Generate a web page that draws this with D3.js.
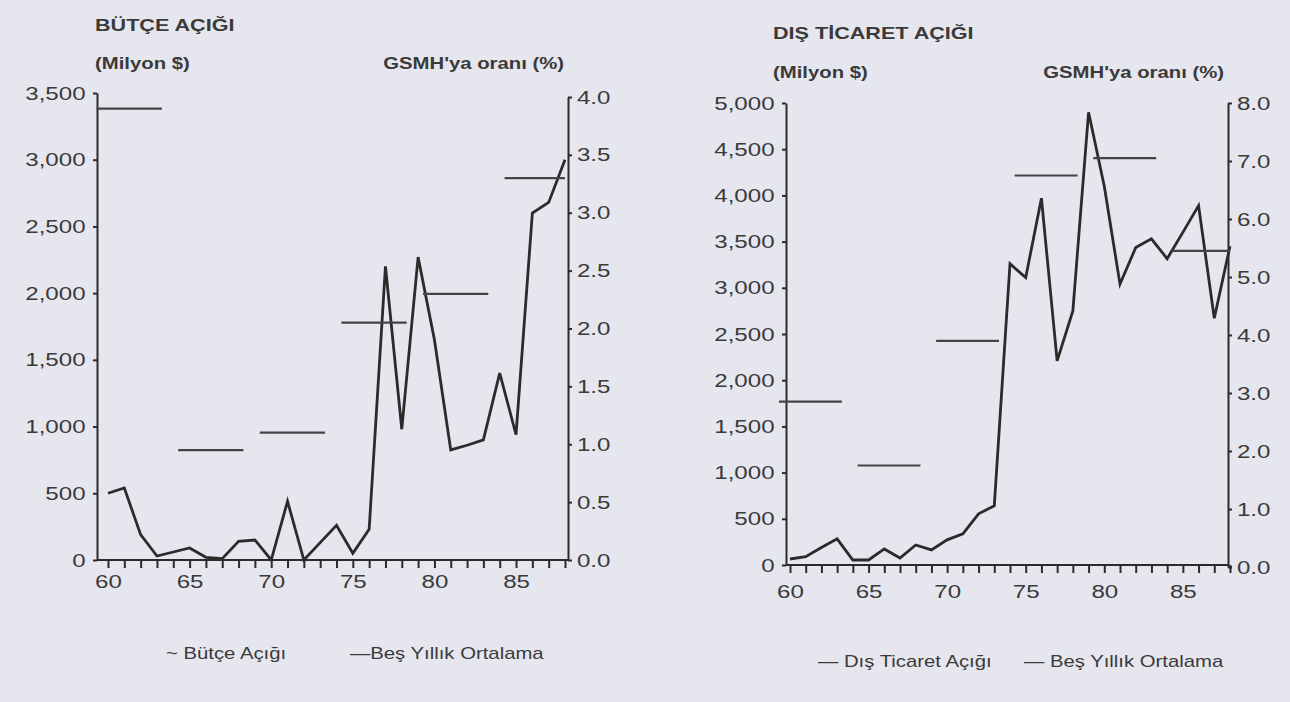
<!DOCTYPE html>
<html>
<head>
<meta charset="utf-8">
<script src="https://cdn.jsdelivr.net/npm/d3@7"></script>
<style>
  body { margin: 0; background: #e6e6ef; }
  svg { display: block; font-family: "Liberation Sans", Arial, sans-serif; }
</style>
</head>
<body>
<svg></svg>
<script>
const width = 1290;
const height = 702;
const SX = 1.27; // the printed text is wide

// years 1960-1988
const years = d3.range(60, 89);
const xTickLabels = [60, 65, 70, 75, 80, 85];

// Bütçe açığı (milyon $)
const butceAcigi = [500, 540, 190, 30, 60, 90, 20, 10, 140, 150, 0, 440, 0, 130, 260,
                    50, 230, 2200, 980, 2270, 1650, 825, 860, 900, 1400, 940, 2600, 2680, 3000];
// Dış ticaret açığı (milyon $)
const disTicaretAcigi = [65, 90, 190, 283, 54, 54, 174, 76, 217, 163, 272, 337, 554, 641, 3260,
                         3110, 3970, 2210, 2750, 4900, 4100, 3040, 3435, 3530, 3315, 3600, 3890, 2670, 3450];

// beş yıllık ortalama, GSMH'ya oranı (%)
const periods = [[60, 64], [65, 69], [70, 74], [75, 79], [80, 84], [85, 88]];
const butceOrt = [3.9, 0.95, 1.1, 2.05, 2.3, 3.3];
const disTicOrt = [2.85, 1.75, 3.9, 6.75, 7.05, 5.45];

const butceTicks = [0, 500, 1000, 1500, 2000, 2500, 3000, 3500];
const butceRTicks = [0, 0.5, 1, 1.5, 2, 2.5, 3, 3.5, 4];
const disTicTicks = [0, 500, 1000, 1500, 2000, 2500, 3000, 3500, 4000, 4500, 5000];
const disTicRTicks = [0, 1, 2, 3, 4, 5, 6, 7, 8];

const ink = "#2b2b2b";
const textInk = "#3a3a3a";

let svg = d3.select("svg")
    .attr("width", width)
    .attr("height", height);

function label(x, y, s, size, anchor, weight) {
    return svg.append("text")
        .attr("transform", `translate(${x},${y}) scale(${SX},1)`)
        .attr("text-anchor", anchor || "start")
        .attr("fill", textInk)
        .style("font-size", size + "px")
        .style("font-weight", weight || "normal")
        .text(s);
}

function styleAxis(g) {
    g.select(".domain").attr("stroke", ink).attr("stroke-width", 2);
    g.selectAll(".tick line").attr("stroke", ink).attr("stroke-width", 2);
    g.selectAll(".tick text")
        .attr("fill", textInk)
        .style("font-size", "19px")
        .attr("transform", `scale(${SX},1)`);
}

function drawChart(c) {
    let xScale = d3.scaleLinear().domain([60, 88]).range(c.xRange);
    let yScale = d3.scaleLinear().domain([0, c.yMax]).range(c.yRange);
    let rScale = d3.scaleLinear().domain([0, c.rMax]).range(c.rRange);

    // titles
    label(c.titleX, c.titleY, c.title, 17, "start", "bold");
    label(c.titleX, c.subY, "(Milyon $)", 16, "start", "bold");
    label(c.axR - 4, c.subY, "GSMH'ya oranı (%)", 16, "end", "bold");

    // left axis
    let yAxis = d3.axisLeft(yScale)
        .tickValues(c.yTicks)
        .tickFormat(d3.format(","))
        .tickSize(4)
        .tickPadding(c.padL)
        .tickSizeOuter(0);
    svg.append("g")
        .attr("transform", `translate(${c.axL},0)`)
        .call(yAxis)
        .call(styleAxis);

    // right axis
    let rAxis = d3.axisRight(rScale)
        .tickValues(c.rTicks)
        .tickFormat(d3.format(".1f"))
        .tickSize(4)
        .tickPadding(c.padR)
        .tickSizeOuter(0);
    svg.append("g")
        .attr("transform", `translate(${c.axR},0)`)
        .call(rAxis)
        .call(styleAxis);

    // bottom axis
    let xAxis = d3.axisBottom(xScale)
        .tickValues(years)
        .tickFormat(d => xTickLabels.includes(d) ? d : "")
        .tickSize(8)
        .tickPadding(c.padB)
        .tickSizeOuter(0);
    let gx = svg.append("g")
        .attr("transform", `translate(0,${c.yRange[0]})`)
        .call(xAxis)
        .call(styleAxis);
    gx.select(".domain").remove();
    gx.append("line")
        .attr("x1", c.axL).attr("x2", c.axR)
        .attr("stroke", ink).attr("stroke-width", 2.2);

    // data line
    let line = d3.line()
        .x((d, i) => xScale(years[i]))
        .y(d => yScale(d));
    svg.append("path")
        .datum(c.values)
        .attr("d", line)
        .attr("fill", "none")
        .attr("stroke", ink)
        .attr("stroke-width", 2.8)
        .attr("stroke-linejoin", "miter");

    // five-year averages
    svg.selectAll(null)
        .data(c.avg)
        .enter()
        .append("line")
        .attr("x1", (d, i) => xScale(periods[i][0] - 0.7))
        .attr("x2", (d, i) => xScale(Math.min(periods[i][0] + 3.3, 88)))
        .attr("y1", d => rScale(d))
        .attr("y2", d => rScale(d))
        .attr("stroke", "#444")
        .attr("stroke-width", 2.2);

    // legend
    label(c.leg1X, c.legY, c.leg1, 16);
    label(c.leg2X, c.legY, c.leg2, 16);
}

drawChart({
    title: "BÜTÇE AÇIĞI",
    titleX: 95, titleY: 31, subY: 69,
    axL: 97, axR: 568,
    xRange: [108, 565],
    yMax: 3500, yRange: [560, 93], yTicks: butceTicks,
    rMax: 4, rRange: [560, 97], rTicks: butceRTicks,
    padL: 5, padR: 3, padB: 7,
    values: butceAcigi, avg: butceOrt,
    leg1: "~ Bütçe Açığı", leg1X: 166,
    leg2: "—Beş Yıllık Ortalama", leg2X: 350,
    legY: 659
});

drawChart({
    title: "DIŞ TİCARET AÇIĞI",
    titleX: 773, titleY: 39, subY: 78,
    axL: 786, axR: 1228,
    xRange: [790, 1230],
    yMax: 5000, yRange: [565, 103], yTicks: disTicTicks,
    rMax: 8, rRange: [567, 103], rTicks: disTicRTicks,
    padL: 5, padR: 3, padB: 12,
    values: disTicaretAcigi, avg: disTicOrt,
    leg1: "— Dış Ticaret Açığı", leg1X: 818,
    leg2: "— Beş Yıllık Ortalama", leg2X: 1024,
    legY: 667
});
</script>
</body>
</html>
